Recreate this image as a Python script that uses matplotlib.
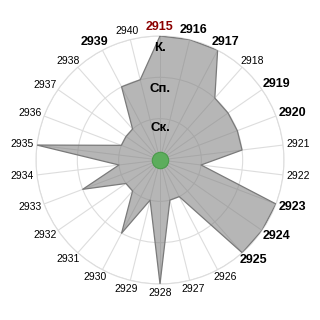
import numpy as np
import matplotlib
matplotlib.use('Agg')
import matplotlib.pyplot as plt

plt.rcParams['font.family'] = ['Liberation Sans', 'DejaVu Sans']

# categories and levels (1 = Ск., 2 = Сп., 3 = К.)
categories = [str(y) for y in range(2915, 2941)]
values = [3, 3, 3, 2, 2, 2, 2, 1, 3, 3, 3, 1, 1, 3,
          1, 2, 1, 1, 2, 1, 3, 1, 1, 1, 2, 2]
bold_labels = ['2915', '2916', '2917', '2919', '2920', '2923',
               '2924', '2925', '2939']
highlight = '2915'
level_names = ['Ск.', 'Сп.', 'К.']
level_pos = [0.78, 1.72, 2.72]

n = len(categories)
angles = np.linspace(0, 2 * np.pi, n, endpoint=False)

fig = plt.figure(figsize=(3.2, 3.2), dpi=100)
ax = fig.add_axes([36 / 320, 36 / 320, 248 / 320, 248 / 320], projection='polar')
ax.set_theta_offset(np.pi / 2)
ax.set_theta_direction(-1)
ax.set_ylim(0, 3)

# grid
ax.set_xticks(angles)
ax.set_xticklabels([])
ax.set_yticks([1, 2, 3])
ax.set_yticklabels([])
ax.grid(True, color='#dddddd', lw=0.8)
ax.spines['polar'].set_color('#dddddd')
ax.spines['polar'].set_linewidth(0.8)

# polygon
th = np.append(angles, angles[0])
vv = np.append(values, values[0])
ax.fill(th, vv, color='#808080', alpha=0.57, lw=0, zorder=2)
ax.plot(th, vv, color='#7a7a7a', lw=0.9, zorder=3)

# centre marker
ax.scatter([0], [0], s=140, color='#5cad5c', edgecolors='#4a9a4a', lw=0.8, zorder=5)

# level labels
for name, r in zip(level_names, level_pos):
    ax.text(0, r, name, ha='center', va='center', fontsize=9.5,
            fontweight='bold', zorder=6)

# category labels, pushed outward by half their size
texts = []
for a, lab in zip(angles, categories):
    if lab in bold_labels:
        col = '#8b0000' if lab == highlight else 'black'
        t = ax.annotate(lab, xy=(a, 3), xytext=(0, 0), textcoords='offset pixels',
                        ha='center', va='center', fontsize=9, fontweight='bold', color=col)
    else:
        t = ax.annotate(lab, xy=(a, 3), xytext=(0, 0), textcoords='offset pixels',
                        ha='center', va='center', fontsize=7.5, color='black')
    texts.append((a, t))

fig.canvas.draw()
r = fig.canvas.get_renderer()
gap = 3.5
for a, t in texts:
    bb = t.get_window_extent(renderer=r)
    dx = (gap + bb.width / 2) * np.sin(a)
    dy = (gap + bb.height / 2) * np.cos(a)
    t.set_position((dx, dy))

fig.savefig('out.png', dpi=100)
